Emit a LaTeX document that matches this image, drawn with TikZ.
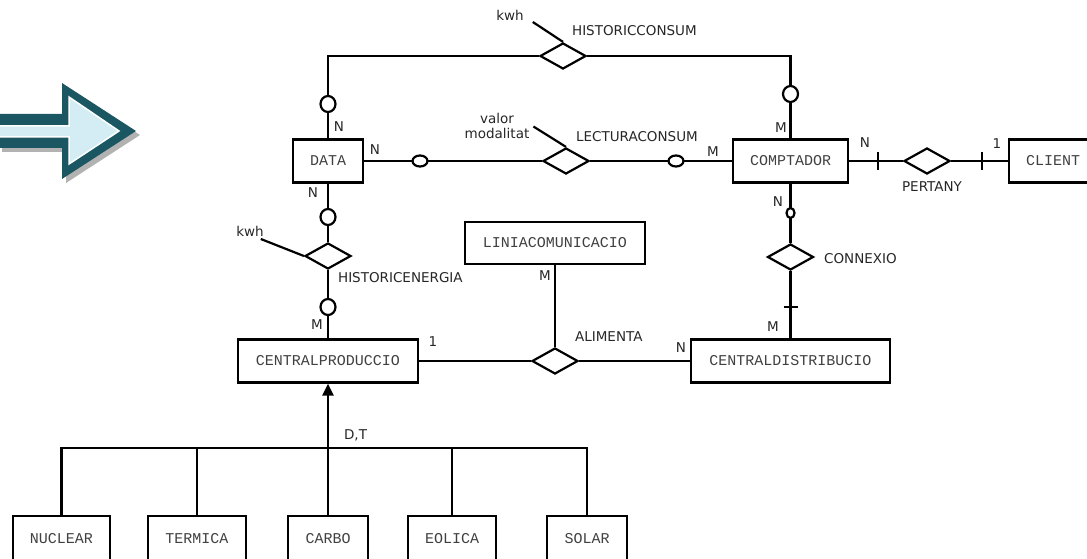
\documentclass[tikz,border=0pt]{standalone}
\usepackage{fontspec}
\usetikzlibrary{shapes.geometric,arrows.meta,shadows}
\newfontfamily\boxfont{Liberation Mono}
\newfontfamily\lblfont{DejaVu Sans}
\definecolor{arrowdark}{RGB}{26,87,99}
\definecolor{arrowlight}{RGB}{212,237,245}

\begin{document}
\begin{tikzpicture}[x=1pt,y=-1pt,line width=2.2pt,
    entity/.style={draw,rectangle,minimum height=43pt,inner sep=0pt,
      font=\boxfont\fontsize{15}{15}\selectfont,text=black!75},
    rel/.style={draw,diamond,minimum width=46pt,minimum height=26pt,inner sep=0pt},
    ringh/.style={draw,fill=white,ellipse,minimum width=15pt,minimum height=11pt,inner sep=0pt},
    ringv/.style={draw,fill=white,ellipse,minimum width=15pt,minimum height=16pt,inner sep=0pt},
    lbl/.style={font=\lblfont\fontsize{13.5}{15}\selectfont,text=black!85,inner sep=0pt}]
    \useasboundingbox (0,0) rectangle (1087,559);

    % big arrow on the left
    \fill[arrowdark,drop shadow={shadow xshift=4pt,shadow yshift=-4pt,opacity=0.3,fill=black}]
        (-2,114) -- (62,114) -- (62,83) -- (136,131) -- (62,179) -- (62,148) -- (-2,148) -- cycle;
    \filldraw[fill=arrowlight,draw=white,line width=1.5pt]
        (-3,126) -- (69,126) -- (69,97) -- (119,131) -- (69,164) -- (69,137) -- (-3,137) -- cycle;

    % entities
    \node[entity,minimum width=70pt] (data) at (328,161) {DATA};
    \node[entity,minimum width=115pt] (comptador) at (790.5,161) {COMPTADOR};
    \node[entity,minimum width=88pt] (client) at (1053,161) {CLIENT};
    \node[entity,minimum width=180pt,minimum height=42pt] (linia) at (555,243) {LINIACOMUNICACIO};
    \node[entity,minimum width=180pt] (centralprod) at (328,361) {CENTRALPRODUCCIO};
    \node[entity,minimum width=199pt] (centraldist) at (790.5,361) {CENTRALDISTRIBUCIO};
    \foreach \nm/\txt/\cx/\bw in {nuclear/NUCLEAR/61.5/97,termica/TERMICA/197/98,
        carbo/CARBO/328/80,eolica/EOLICA/452/88,solar/SOLAR/587/80}
        \node[entity,minimum width=\bw pt,minimum height=46pt] (\nm) at (\cx,539) {\txt};

    % relationships
    \node[rel] (histcons) at (563,56) {};
    \node[rel] (lectura) at (566,161) {};
    \node[rel] (pertany) at (927,161) {};
    \node[rel] (connexio) at (790.5,257) {};
    \node[rel] (histener) at (328,256) {};
    \node[rel] (alimenta) at (555,361) {};

    \draw (data.north) |- (histcons.west);
    \draw (histcons.east) -| (comptador.north);
    \draw (data.east) -- (lectura.west);
    \draw (lectura.east) -- (comptador.west);
    \draw (comptador.east) -- (pertany.west);
    \draw (pertany.east) -- (client.west);
    \draw (comptador.south) -- (connexio.north);
    \draw (connexio.south) -- (centraldist.north);
    \draw (data.south) -- (histener.north);
    \draw (histener.south) -- (centralprod.north);
    \draw (linia.south) -- (alimenta.north);
    \draw (centralprod.east) -- (alimenta.west);
    \draw (alimenta.east) -- (centraldist.west);

    % generalisation
    \coordinate (isa) at (328,448);
    \draw[-{Triangle[length=12pt,width=11pt]}] (isa) -- (centralprod.south);
    \draw (nuclear.north) |- (isa) -| (solar.north);
    \draw (termica.north) -- (termica.north |- isa);
    \draw (carbo.north) -- (isa);
    \draw (eolica.north) -- (eolica.north |- isa);

    % optional marks and ticks
    \node[ringv] (o1) at (328,104) {};
    \node[ringv] (o2) at (790.5,94) {};
    \node[ringh] (o3) at (420,161) {};
    \node[ringh] (o4) at (676,161) {};
    \node[ringv] (o5) at (328,217) {};
    \node[ringv] (o6) at (328,307) {};
    \node[ringv,minimum width=8pt,minimum height=10pt] (o7) at (790.5,213) {};
    \coordinate (t1) at (878,161);
    \coordinate (t2) at (982,161);
    \coordinate (t3) at (790.5,307);
    \draw ([yshift=8.5pt]t1) -- ([yshift=-8.5pt]t1);
    \draw ([yshift=8.5pt]t2) -- ([yshift=-8.5pt]t2);
    \draw ([xshift=-7pt]t3) -- ([xshift=7pt]t3);

    % attributes
    \node[lbl] (kwhcons) at (510,15) {kwh};
    \draw ([xshift=8pt,yshift=-7pt]kwhcons.east) -- (histcons.north);
    \node[lbl,align=center] (valmod) at (497,125.5) {valor\\modalitat};
    \draw ([xshift=3pt,yshift=-1pt]valmod.east) -- (lectura.north);
    \node[lbl] (kwhener) at (250,231) {kwh};
    \draw ([xshift=-4pt,yshift=-8pt]kwhener.east) -- (histener.west);

    % names of relationships
    \node[lbl,anchor=west] (lblhc) at (571,31) {HISTORICCONSUM};
    \node[lbl,anchor=west] (lbllc) at (575,137) {LECTURACONSUM};
    \node[lbl] (lblpe) at (932,187) {PERTANY};
    \node[lbl,anchor=west] (lblco) at (823,259) {CONNEXIO};
    \node[lbl,anchor=west] (lblhe) at (337,278) {HISTORICENERGIA};
    \node[lbl,anchor=west] (lblal) at (574,337) {ALIMENTA};
    \node[lbl,anchor=west] (lbldt) at (343,435) {D,T};

    % cardinalities
    \node[lbl] (c1) at (339,127) {N};
    \node[lbl] (c2) at (375,150) {N};
    \node[lbl] (c3) at (313,193) {N};
    \node[lbl] (c4) at (781,128) {M};
    \node[lbl] (c5) at (713,152) {M};
    \node[lbl] (c6) at (865,143) {N};
    \node[lbl] (c7) at (997,144) {1};
    \node[lbl] (c8) at (778,202) {N};
    \node[lbl] (c9) at (773,327) {M};
    \node[lbl] (c10) at (681,348) {N};
    \node[lbl] (c11) at (317,325) {M};
    \node[lbl] (c12) at (433,342) {1};
    \node[lbl] (c13) at (545,276) {M};
\end{tikzpicture}
\end{document}
